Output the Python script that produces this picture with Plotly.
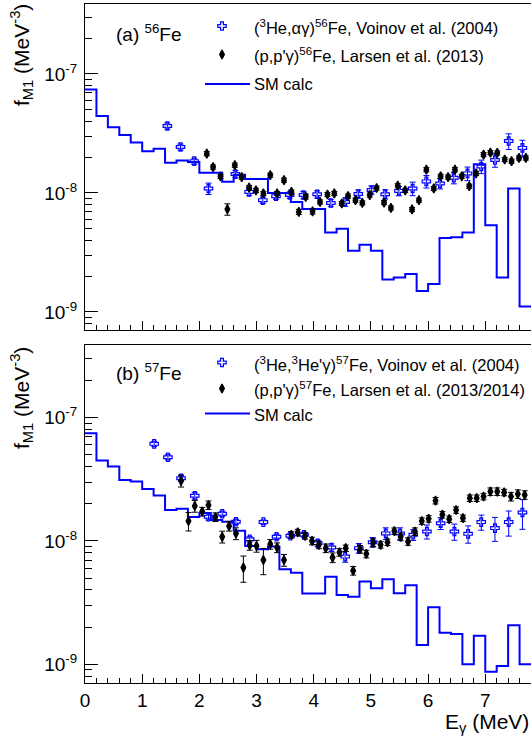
import plotly.graph_objects as go

# ---------------- data ----------------
# shell-model histogram, 0.2 MeV bins (low edges)
sm_bin_low = [0.0, 0.2, 0.4, 0.6, 0.8, 1.0, 1.2, 1.4, 1.6, 1.8,
              2.0, 2.2, 2.4, 2.6, 2.8, 3.0, 3.2, 3.4, 3.6, 3.8,
              4.0, 4.2, 4.4, 4.6, 4.8, 5.0, 5.2, 5.4, 5.6, 5.8,
              6.0, 6.2, 6.4, 6.6, 6.8, 7.0, 7.2, 7.4, 7.6]
sm_bin_width = 0.2
sm_fe56 = [7.41e-8, 4.43e-8, 3.56e-8, 3.07e-8, 2.65e-8, 2.24e-8, 2.35e-8, 1.79e-8, 1.87e-8, 1.82e-8,
           1.48e-8, 1.48e-8, 1.24e-8, 1.42e-8, 1.31e-8, 1.31e-8, 1.00e-8, 1.00e-8, 8.4e-9, 7.34e-9,
           7.34e-9, 4.66e-9, 4.99e-9, 3.26e-9, 3.66e-9, 3.26e-9, 1.87e-9, 1.95e-9, 2.08e-9, 1.50e-9,
           1.72e-9, 4.19e-9, 4.25e-9, 4.66e-9, 1.74e-8, 5.36e-9, 1.95e-9, 1.09e-8, 1.11e-9]
sm_fe57 = [7.47e-8, 4.48e-8, 4.01e-8, 3.12e-8, 3.03e-8, 2.63e-8, 2.33e-8, 1.78e-8, 1.82e-8, 1.56e-8,
           1.68e-8, 1.48e-8, 1.43e-8, 1.21e-8, 9.1e-9, 8.57e-9, 8.99e-9, 5.89e-9, 5.53e-9, 3.74e-9,
           3.74e-9, 5.13e-9, 3.65e-9, 3.53e-9, 4.68e-9, 4.13e-9, 4.89e-9, 3.76e-9, 4.37e-9, 1.43e-9,
           2.90e-9, 1.80e-9, 1.76e-9, 1.00e-9, 1.70e-9, 8.7e-10, 9.7e-10, 2.07e-9, 1.00e-9]

# (3He,alpha gamma)56Fe, Voinov et al. (2004)
voinov56_E = [1.44, 1.67, 1.91, 2.16, 2.63, 2.87, 3.11, 3.34, 3.58, 3.82, 4.06, 4.30, 4.55,
              4.78, 5.01, 5.25, 5.49, 5.73, 5.97, 6.21, 6.45, 6.69, 6.93, 7.17, 7.41, 7.65]
voinov56_f = [3.65e-8, 2.43e-8, 1.85e-8, 1.09e-8, 1.44e-8, 1.02e-8, 8.7e-9, 9.4e-9, 9.6e-9, 9.6e-9,
              9.75e-9, 8.24e-9, 8.4e-9, 9.8e-9, 1.06e-8, 9.75e-9, 1.04e-8, 1.09e-8, 1.25e-8, 1.2e-8,
              1.34e-8, 1.46e-8, 1.67e-8, 1.89e-8, 2.73e-8, 2.39e-8]
voinov56_rel = [0.06, 0.06, 0.06, 0.11, 0.07, 0.07, 0.06, 0.06, 0.06, 0.07, 0.07, 0.07, 0.08,
                0.08, 0.08, 0.09, 0.09, 0.13, 0.12, 0.10, 0.11, 0.13, 0.13, 0.13, 0.15, 0.16]

# (p,p'gamma)56Fe, Larsen et al. (2013)
larsen56_E = [2.13, 2.24, 2.37, 2.49, 2.62, 2.74, 2.87, 2.99, 3.12, 3.24,
              3.36, 3.48, 3.61, 3.74, 3.86, 3.98, 4.11, 4.24, 4.36, 4.49,
              4.60, 4.73, 4.85, 4.98, 5.10, 5.23, 5.35, 5.47, 5.60, 5.72,
              5.84, 5.97, 6.10, 6.22, 6.35, 6.47, 6.59, 6.72, 6.84, 6.97,
              7.09, 7.21, 7.34, 7.46, 7.59, 7.71]
larsen56_f = [2.14e-8, 1.65e-8, 1.38e-8, 7.3e-9, 1.71e-8, 1.36e-8, 1.11e-8, 1.05e-8, 9.9e-9, 1.41e-8,
              9.9e-9, 1.28e-8, 1.02e-8, 6.93e-9, 9.25e-9, 7.0e-9, 8.4e-9, 9.7e-9, 9.9e-9, 8.15e-9,
              9.4e-9, 8.7e-9, 8.25e-9, 9.6e-9, 1.1e-8, 8.3e-9, 7.48e-9, 1.15e-8, 1.05e-8, 7.26e-9,
              8.7e-9, 1.57e-8, 1.09e-8, 1.38e-8, 1.36e-8, 1.57e-8, 1.38e-8, 1.14e-8, 1.46e-8, 2.1e-8,
              2.18e-8, 2.17e-8, 1.91e-8, 1.85e-8, 1.97e-8, 1.97e-8]
larsen56_rel = [0.04, 0.04, 0.04, 0.11, 0.04, 0.04, 0.04, 0.04, 0.04, 0.04,
                0.04, 0.04, 0.04, 0.05, 0.04, 0.05, 0.04, 0.04, 0.04, 0.04,
                0.04, 0.04, 0.04, 0.04, 0.04, 0.04, 0.04, 0.04, 0.04, 0.04,
                0.04, 0.04, 0.04, 0.04, 0.04, 0.04, 0.04, 0.04, 0.04, 0.04,
                0.04, 0.04, 0.04, 0.04, 0.04, 0.04]

# (3He,3He'gamma)57Fe, Voinov et al. (2004)
voinov57_E = [1.21, 1.45, 1.68, 1.92, 2.16, 2.40, 2.64, 2.88, 3.12, 3.35, 3.59, 3.83, 4.07, 4.31,
              4.55, 4.79, 5.03, 5.26, 5.51, 5.74, 5.98, 6.22, 6.46, 6.70, 6.93, 7.17, 7.41, 7.65]
voinov57_f = [6.12e-8, 4.77e-8, 3.22e-8, 2.32e-8, 1.57e-8, 1.66e-8, 1.43e-8, 1.03e-8, 1.42e-8, 1.08e-8,
              1.1e-8, 1.12e-8, 9.57e-9, 8.83e-9, 7.46e-9, 8.73e-9, 9.76e-9, 1.15e-8, 1.15e-8, 1.12e-8,
              1.19e-8, 1.39e-8, 1.19e-8, 1.14e-8, 1.42e-8, 1.27e-8, 1.42e-8, 1.70e-8]
voinov57_rel = [0.05, 0.05, 0.06, 0.06, 0.06, 0.05, 0.05, 0.05, 0.04, 0.05, 0.05, 0.05, 0.06, 0.07,
                0.10, 0.09, 0.09, 0.11, 0.11, 0.10, 0.13, 0.11, 0.15, 0.16, 0.14, 0.22, 0.23, 0.27]

# (p,p'gamma)57Fe, Larsen et al. (2013/2014)
larsen57_E = [1.68, 1.81, 1.92, 2.05, 2.16, 2.28, 2.40, 2.52, 2.64, 2.77,
              2.88, 3.00, 3.12, 3.24, 3.36, 3.48, 3.61, 3.72, 3.85, 3.97,
              4.09, 4.21, 4.33, 4.45, 4.56, 4.69, 4.81, 4.92, 5.04, 5.17,
              5.29, 5.41, 5.52, 5.65, 5.77, 5.89, 6.01, 6.13, 6.25, 6.37,
              6.49, 6.61, 6.73, 6.85, 6.97, 7.09, 7.21, 7.33, 7.45, 7.57, 7.69]
larsen57_f = [3.07e-8, 1.45e-8, 1.92e-8, 1.73e-8, 1.95e-8, 1.56e-8, 1.08e-8, 1.32e-8, 1.15e-8, 6.08e-9,
              9.23e-9, 9.1e-9, 7.0e-9, 9.4e-9, 8.83e-9, 7.0e-9, 1.12e-8, 1.17e-8, 1.1e-8, 1.0e-8,
              9.3e-9, 8.73e-9, 7.32e-9, 8.09e-9, 8.73e-9, 5.74e-9, 8.57e-9, 7.85e-9, 9.7e-9, 9.3e-9,
              9.76e-9, 1.2e-8, 1.08e-8, 9.9e-9, 1.19e-8, 1.45e-8, 1.51e-8, 2.12e-8, 1.63e-8, 1.5e-8,
              1.78e-8, 1.53e-8, 2.22e-8, 2.22e-8, 2.29e-8, 2.51e-8, 2.51e-8, 2.47e-8, 2.29e-8, 2.4e-8, 2.36e-8]
larsen57_rel = [0.11, 0.17, 0.11, 0.08, 0.08, 0.08, 0.11, 0.09, 0.11, 0.24,
                0.09, 0.11, 0.24, 0.09, 0.09, 0.11, 0.06, 0.06, 0.06, 0.07,
                0.07, 0.08, 0.09, 0.07, 0.06, 0.08, 0.07, 0.07, 0.07, 0.06,
                0.06, 0.06, 0.07, 0.07, 0.07, 0.06, 0.06, 0.06, 0.06, 0.06,
                0.06, 0.06, 0.06, 0.06, 0.06, 0.07, 0.07, 0.06, 0.08, 0.08, 0.08]

x_tick_vals = [0, 1, 2, 3, 4, 5, 6, 7]
y_tick_vals = [1e-9, 1e-8, 1e-7]
y_tick_text = ["10<sup>-9</sup>", "10<sup>-8</sup>", "10<sup>-7</sup>"]
y_minor_vals = [m * d for d in (1e-10, 1e-9, 1e-8, 1e-7) for m in range(2, 10)]

leg56 = ["(<sup>3</sup>He,αγ)<sup>56</sup>Fe, Voinov et al. (2004)",
         "(p,p'γ)<sup>56</sup>Fe, Larsen et al. (2013)",
         "SM calc"]
leg57 = ["(<sup>3</sup>He,<sup>3</sup>He'γ)<sup>57</sup>Fe, Voinov et al. (2004)",
         "(p,p'γ)<sup>57</sup>Fe, Larsen et al. (2013/2014)",
         "SM calc"]

# ---------------- styling / layout helpers ----------------
FONT = "Liberation Sans, Arial, sans-serif"
BLUE = "#0000ff"
W_FIG, H_FIG = 531, 736
L, T, R, B = 85, 4, 0, 53
PW, PH = W_FIG - L - R, H_FIG - T - B

CROSS = dict(symbol="cross-open", size=7, color=BLUE, line=dict(color=BLUE, width=1.2))
DIAM = dict(symbol="diamond-tall", size=6.5, color="black", line=dict(color="black", width=1.4))


def px_x(px):
    return (px - L) / PW


def px_y(py):
    return (T + PH - py) / PH


def hist_xy(lows, vals, width):
    xs = list(lows) + [lows[-1] + width]
    ys = list(vals) + [vals[-1]]
    return xs, ys


fig = go.Figure()


def add_panel(xa, ya, sm, vE, vf, vrel, lE, lf, lrel):
    hx, hy = hist_xy(sm_bin_low, sm, sm_bin_width)
    fig.add_trace(go.Scatter(x=hx, y=hy, mode="lines", line=dict(color=BLUE, width=2, shape="hv"),
                             xaxis=xa, yaxis=ya, showlegend=False, hoverinfo="skip"))
    fig.add_trace(go.Scatter(x=vE, y=vf, mode="markers", marker=CROSS,
                             error_y=dict(type="data", array=[f * r for f, r in zip(vf, vrel)],
                                          color=BLUE, thickness=1, width=3),
                             xaxis=xa, yaxis=ya, showlegend=False))
    fig.add_trace(go.Scatter(x=lE, y=lf, mode="markers", marker=DIAM,
                             error_y=dict(type="data", array=[f * r for f, r in zip(lf, lrel)],
                                          color="black", thickness=1, width=3),
                             xaxis=xa, yaxis=ya, showlegend=False))


add_panel("x2", "y2", sm_fe56, voinov56_E, voinov56_f, voinov56_rel, larsen56_E, larsen56_f, larsen56_rel)
add_panel("x", "y", sm_fe57, voinov57_E, voinov57_f, voinov57_rel, larsen57_E, larsen57_f, larsen57_rel)

# legend samples drawn on an invisible pixel-space axis pair covering the plot area
leg_rows = [(26, 54.5, 84), (362.5, 388.5, 413.5)]
for r1, r2, r3 in leg_rows:
    fig.add_trace(go.Scatter(x=[222], y=[r1], mode="markers", xaxis="x3", yaxis="y3", marker=CROSS,
                             showlegend=False, hoverinfo="skip"))
    fig.add_trace(go.Scatter(x=[222], y=[r2], mode="markers", xaxis="x3", yaxis="y3", marker=DIAM,
                             showlegend=False, hoverinfo="skip"))
    fig.add_trace(go.Scatter(x=[205, 250], y=[r3, r3], mode="lines", xaxis="x3", yaxis="y3",
                             line=dict(color=BLUE, width=2), showlegend=False, hoverinfo="skip"))

dom_b = [0, px_y(345)]
dom_a = [px_y(330), 1]
yr = [-9.152, -6.412]

xaxis_common = dict(range=[0, 7.8], tickvals=x_tick_vals, ticks="inside", ticklen=9, tickwidth=1,
                    tickcolor="black", showline=True, linecolor="black", linewidth=1, mirror=True,
                    showgrid=False, zeroline=False,
                    minor=dict(ticks="inside", dtick=0.2, tick0=0, ticklen=5, tickcolor="black", showgrid=False),
                    tickfont=dict(family=FONT, size=19, color="black"))
yaxis_common = dict(type="log", range=yr, tickmode="array", tickvals=y_tick_vals, ticktext=y_tick_text,
                    ticks="inside", ticklen=13, tickwidth=1, tickcolor="black",
                    showline=True, linecolor="black", linewidth=1, showgrid=False, zeroline=False,
                    minor=dict(ticks="inside", tickmode="array", tickvals=y_minor_vals, ticklen=7,
                               tickcolor="black", showgrid=False),
                    tickfont=dict(family=FONT, size=19, color="black"), ticklabelstandoff=3)

fig.update_layout(
    width=W_FIG, height=H_FIG,
    margin=dict(l=L, r=R, t=T, b=B, pad=0),
    paper_bgcolor="white", plot_bgcolor="rgba(0,0,0,0)",
    showlegend=False,
    xaxis=dict(anchor="y", **xaxis_common),
    yaxis=dict(anchor="x", domain=dom_b, **yaxis_common),
    xaxis2=dict(anchor="y2", matches="x", showticklabels=False, **{k: v for k, v in xaxis_common.items() if k != "tickfont"}),
    yaxis2=dict(anchor="x2", domain=dom_a, **yaxis_common),
    xaxis3=dict(domain=[0, 1], range=[L, W_FIG - R], visible=False, anchor="y3", fixedrange=True),
    yaxis3=dict(domain=[0, 1], range=[T + PH, T], visible=False, anchor="x3", fixedrange=True),
)

ann = []
# y-axis titles
for top in (2, 345):
    ann.append(dict(text="f<sub>M1</sub> (MeV<sup>-3</sup>)", textangle=-90, xref="paper", yref="paper",
                    x=px_x(21), y=px_y(top), xanchor="center", yanchor="top", showarrow=False,
                    font=dict(family=FONT, size=21, color="black")))
# x-axis title
ann.append(dict(text="E<sub>γ</sub> (MeV)", xref="paper", yref="paper", x=1.0, y=px_y(708),
                xanchor="right", yanchor="top", showarrow=False,
                font=dict(family=FONT, size=21, color="black")))
# panel labels
ann.append(dict(text="(a) <sup>56</sup>Fe", xref="paper", yref="paper", x=px_x(114), y=px_y(33),
                xanchor="left", yanchor="middle", showarrow=False, font=dict(family=FONT, size=19, color="black")))
ann.append(dict(text="(b) <sup>57</sup>Fe", xref="paper", yref="paper", x=px_x(114), y=px_y(372),
                xanchor="left", yanchor="middle", showarrow=False, font=dict(family=FONT, size=19, color="black")))
# legend texts
for texts, rows in ((leg56, (27, 55.5, 84)), (leg57, (363.5, 389, 414.5))):
    for t, r in zip(texts, rows):
        ann.append(dict(text=t, xref="paper", yref="paper", x=px_x(252), y=px_y(r),
                        xanchor="left", yanchor="middle", showarrow=False,
                        font=dict(family=FONT, size=16.5, color="black")))
fig.update_layout(annotations=ann)

fig.write_html("out.html")
